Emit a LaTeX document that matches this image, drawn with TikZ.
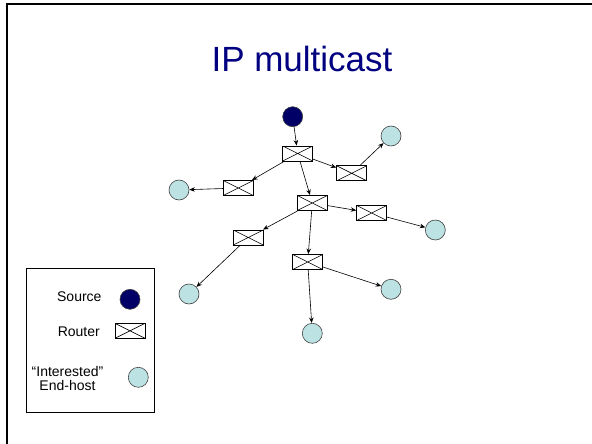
\documentclass[tikz,border=0pt]{standalone}
\usepackage{fontspec}
\setmainfont{Liberation Sans}
\usetikzlibrary{arrows.meta}
\definecolor{titleblue}{RGB}{0,0,128}
\definecolor{srcfill}{RGB}{0,0,102}
\definecolor{hostfill}{RGB}{189,226,228}
\begin{document}
\begin{tikzpicture}[x=1pt,y=-1pt,
  router/.style={draw, line width=0.9pt, rectangle, minimum width=30pt, minimum height=15pt, inner sep=0pt,
    path picture={\draw[line width=0.6pt] (path picture bounding box.north west) -- (path picture bounding box.south east)
      (path picture bounding box.north east) -- (path picture bounding box.south west);}},
  host/.style={circle, draw=black!75, line width=0.6pt, fill=hostfill, minimum size=20pt, inner sep=0pt},
  source/.style={circle, draw=black!75, line width=0.6pt, fill=srcfill, minimum size=20pt, inner sep=0pt},
  link/.style={line width=0.6pt, -{Stealth[length=5.5pt,width=4.5pt]}},
  legtext/.style={font=\fontsize{14}{14}\selectfont, inner sep=0pt}
]
\useasboundingbox (0,0) rectangle (592,444);
% slide frame
\draw[line width=2pt] (6.5,444) -- (6.5,4.5) -- (592,4.5);

% title
\node[anchor=base, text=titleblue, font=\fontsize{35}{40}\selectfont, inner sep=0pt] (title) at (302,71) {IP multicast};

% multicast tree
\node[source] (src) at (292.7,116.7) {};
\node[router] (r1) at (297.7,153.5) {};
\node[router] (r2) at (351.7,173.3) {};
\node[router] (r3) at (238.3,188) {};
\node[router] (r4) at (312.3,203) {};
\node[router] (r5) at (371.7,213) {};
\node[router] (r6) at (248.3,237.5) {};
\node[router] (r7) at (307.7,262) {};
\node[host] (h1) at (391,136) {};
\node[host] (h2) at (179,190) {};
\node[host] (h3) at (435.3,230) {};
\node[host] (h4) at (189,294) {};
\node[host] (h5) at (391,289.3) {};
\node[host] (h6) at (312.3,333.3) {};

\draw[link] (src) -- (r1);
\draw[link] (r1) -- (r2);
\draw[link] (r2) -- (h1);
\draw[link] (r1) -- (r3);
\draw[link] (r3) -- (h2);
\draw[link] (r1) -- (r4);
\draw[link] (r4) -- (r5);
\draw[link] (r5) -- (h3);
\draw[link] (r4) -- (r6);
\draw[link] (r6) -- (h4);
\draw[link] (r4) -- (r7);
\draw[link] (r7) -- (h5);
\draw[link] (r7) -- (h6);

% legend
\node[draw, line width=0.6pt, minimum width=128pt, minimum height=144pt, inner sep=0pt] (legend) at (90,340) {};
\node[legtext, anchor=base east] (lsrc) at (101.7,301.7) {Source};
\node[source] (lsrcsym) at (130,299.3) {};
\node[legtext, anchor=base east] (lrtr) at (100,336) {Router};
\node[router] (lrtrsym) at (130,330.8) {};
\node[legtext, anchor=base, align=center] (lhost) at (67.5,390.7) {“Interested”\\End-host};
\node[host] (lhostsym) at (138.3,377.3) {};
\end{tikzpicture}
\end{document}
